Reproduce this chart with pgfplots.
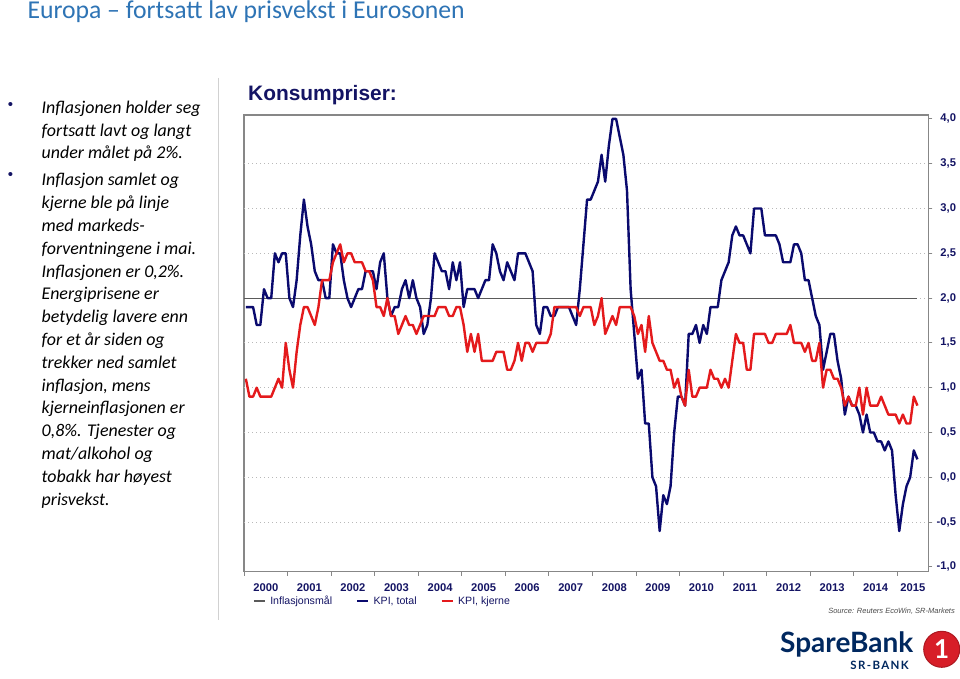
\documentclass[border=0pt]{standalone}
\usepackage{pgfplots}
\pgfplotsset{compat=1.18}
\usepackage{pgfplotstable}
\usepackage{fontspec}
\setmainfont{Liberation Sans}
\newfontfamily\calibri{Carlito}
\newfontfamily\arial{Liberation Sans}
\newfontfamily\logofont{Lato}
\definecolor{titleblue}{RGB}{46,116,181}
\definecolor{navy}{RGB}{20,20,100}
\definecolor{kpiblue}{RGB}{10,10,110}
\definecolor{kpired}{RGB}{228,26,28}
\definecolor{framegray}{RGB}{135,135,135}
\definecolor{gridgray}{RGB}{185,185,185}
\definecolor{targetgray}{RGB}{90,90,90}
\definecolor{logonavy}{RGB}{0,40,95}
\definecolor{logored}{RGB}{215,30,40}

\pgfplotstableread{
m total core
0 1.9 1.1
1 1.9 0.9
2 1.9 0.9
3 1.7 1.0
4 1.7 0.9
5 2.1 0.9
6 2.0 0.9
7 2.0 0.9
8 2.5 1.0
9 2.4 1.1
10 2.5 1.0
11 2.5 1.5
12 2.0 1.2
13 1.9 1.0
14 2.2 1.4
15 2.7 1.7
16 3.1 1.9
17 2.8 1.9
18 2.6 1.8
19 2.3 1.7
20 2.2 1.9
21 2.2 2.2
22 2.0 2.2
23 2.0 2.2
24 2.6 2.4
25 2.5 2.5
26 2.5 2.6
27 2.2 2.4
28 2.0 2.5
29 1.9 2.5
30 2.0 2.4
31 2.1 2.4
32 2.1 2.4
33 2.3 2.3
34 2.3 2.3
35 2.3 2.2
36 2.1 1.9
37 2.4 1.9
38 2.5 1.8
39 2.0 2.0
40 1.8 1.8
41 1.9 1.8
42 1.9 1.6
43 2.1 1.7
44 2.2 1.8
45 2.0 1.7
46 2.2 1.7
47 2.0 1.6
48 1.9 1.7
49 1.6 1.8
50 1.7 1.8
51 2.0 1.8
52 2.5 1.8
53 2.4 1.9
54 2.3 1.9
55 2.3 1.9
56 2.1 1.8
57 2.4 1.8
58 2.2 1.9
59 2.4 1.9
60 1.9 1.7
61 2.1 1.4
62 2.1 1.6
63 2.1 1.4
64 2.0 1.6
65 2.1 1.3
66 2.2 1.3
67 2.2 1.3
68 2.6 1.3
69 2.5 1.4
70 2.3 1.4
71 2.2 1.4
72 2.4 1.2
73 2.3 1.2
74 2.2 1.3
75 2.5 1.5
76 2.5 1.3
77 2.5 1.5
78 2.4 1.5
79 2.3 1.4
80 1.7 1.5
81 1.6 1.5
82 1.9 1.5
83 1.9 1.5
84 1.8 1.6
85 1.8 1.9
86 1.9 1.9
87 1.9 1.9
88 1.9 1.9
89 1.9 1.9
90 1.8 1.9
91 1.7 1.9
92 2.1 1.8
93 2.6 1.9
94 3.1 1.9
95 3.1 1.9
96 3.2 1.7
97 3.3 1.8
98 3.6 2.0
99 3.3 1.6
100 3.7 1.7
101 4.0 1.8
102 4.0 1.7
103 3.8 1.9
104 3.6 1.9
105 3.2 1.9
106 2.1 1.9
107 1.6 1.8
108 1.1 1.6
109 1.2 1.7
110 0.6 1.4
111 0.6 1.8
112 0.0 1.5
113 -0.1 1.4
114 -0.6 1.3
115 -0.2 1.3
116 -0.3 1.2
117 -0.1 1.2
118 0.5 1.0
119 0.9 1.1
120 0.9 0.9
121 0.8 0.8
122 1.6 1.2
123 1.6 0.9
124 1.7 0.9
125 1.5 1.0
126 1.7 1.0
127 1.6 1.0
128 1.9 1.2
129 1.9 1.1
130 1.9 1.1
131 2.2 1.0
132 2.3 1.1
133 2.4 1.0
134 2.7 1.3
135 2.8 1.6
136 2.7 1.5
137 2.7 1.5
138 2.6 1.2
139 2.5 1.2
140 3.0 1.6
141 3.0 1.6
142 3.0 1.6
143 2.7 1.6
144 2.7 1.5
145 2.7 1.5
146 2.7 1.6
147 2.6 1.6
148 2.4 1.6
149 2.4 1.6
150 2.4 1.7
151 2.6 1.5
152 2.6 1.5
153 2.5 1.5
154 2.2 1.4
155 2.2 1.5
156 2.0 1.3
157 1.8 1.3
158 1.7 1.5
159 1.2 1.0
160 1.4 1.2
161 1.6 1.2
162 1.6 1.1
163 1.3 1.1
164 1.1 1.0
165 0.7 0.8
166 0.9 0.9
167 0.8 0.8
168 0.8 0.8
169 0.7 1.0
170 0.5 0.7
171 0.7 1.0
172 0.5 0.8
173 0.5 0.8
174 0.4 0.8
175 0.4 0.9
176 0.3 0.8
177 0.4 0.7
178 0.3 0.7
179 -0.2 0.7
180 -0.6 0.6
181 -0.3 0.7
182 -0.1 0.6
183 0.0 0.6
184 0.3 0.9
185 0.2 0.8
}\kpidata

\begin{document}
\begin{tikzpicture}[x=1pt,y=1pt]
\path[use as bounding box] (0,0) rectangle (960,678);
\fill[white] (0,0) rectangle (960,678);

% title
\node[anchor=base west, inner sep=0pt, text=titleblue, font=\calibri\fontsize{25.7}{28}\selectfont] at (27.3,659.5) {Europa – fortsatt lav prisvekst i Eurosonen};

% divider
\draw[black!18, line width=1pt] (218,600) -- (218,58);

% bullets
\begin{scope}[every node/.style={anchor=base west, inner sep=0pt, font=\calibri\itshape\fontsize{17.9}{22.8}\selectfont}]
\node at (41.5,564.7) {Inflasjonen holder seg};
\node at (41.5,541.9) {fortsatt lavt og langt};
\node at (41.5,519.1) {under målet på 2\%.};
\node at (41.5,492.1) {Inflasjon samlet og};
\node at (41.5,469.3) {kjerne ble på linje};
\node at (41.5,446.5) {med markeds-};
\node at (41.5,423.7) {forventningene i mai.};
\node at (41.5,400.9) {Inflasjonen er 0,2\%.};
\node at (41.5,378.1) {Energiprisene er};
\node at (41.5,355.3) {betydelig lavere enn};
\node at (41.5,332.5) {for et år siden og};
\node at (41.5,309.7) {trekker ned samlet};
\node at (41.5,286.9) {inflasjon, mens};
\node at (41.5,264.1) {kjerneinflasjonen er};
\node at (41.5,241.3) {0,8\%. Tjenester og};
\node at (41.5,218.5) {mat/alkohol og};
\node at (41.5,195.7) {tobakk har høyest};
\node at (41.5,172.9) {prisvekst.};
\end{scope}
\node[anchor=center, inner sep=0pt, text=navy, font=\arial\fontsize{15}{15}\selectfont] at (10.5,572) {•};
\node[anchor=center, inner sep=0pt, text=navy, font=\arial\fontsize{15}{15}\selectfont] at (10.5,502) {•};

% chart heading
\node[anchor=base west, inner sep=0pt, text=navy, font=\arial\bfseries\fontsize{20.9}{22}\selectfont] at (248,577) {Konsumpriser:};

\begin{axis}[
  at={(244pt,106.3pt)}, anchor=south west,
  scale only axis, width=684.3pt, height=456.7pt,
  xmin=0, xmax=188.5, ymin=-1.054, ymax=4.044,
  axis line style={framegray, line width=1.3pt},
  tick align=outside,
  major tick length=4pt, minor tick length=4pt,
  xtick={6,18,30,42,54,66,78,90,102,114,126,138,150,162,174,184.25},
  xticklabels={2000,2001,2002,2003,2004,2005,2006,2007,2008,2009,2010,2011,2012,2013,2014,2015},
  major x tick style={draw=none},
  minor xtick={0,12,24,36,48,60,72,84,96,108,120,132,144,156,168,180},
  minor x tick style={framegray, line width=1pt},
  xtick pos=bottom,
  xticklabel style={font=\arial\bfseries\fontsize{11.2}{12}\selectfont, text=navy, anchor=base, yshift=-16.2pt, inner sep=0pt},
  ytick={-1,-0.5,0,0.5,1,1.5,2,2.5,3,3.5,4},
  ytick pos=right, yticklabel pos=right,
  major y tick style={framegray, line width=1pt},
  yticklabel style={font=\arial\bfseries\fontsize{11.2}{12}\selectfont, text=navy, anchor=east, xshift=23.9pt, inner sep=0pt},
  extra y ticks={-0.5,0,0.5,1,1.5,2,2.5,3,3.5},
  extra y tick labels={},
  extra y tick style={grid=major, major grid style={gridgray, line width=0.9pt, dash pattern=on 1.2pt off 2.8pt}},
  scaled y ticks=false,
  /pgf/number format/fixed, /pgf/number format/fixed zerofill,
  /pgf/number format/precision=1, /pgf/number format/use comma,
  /pgf/number format/assume math mode=true,
  legend columns=3,
  legend style={at={(0.0125,-0.0642)}, anchor=west, draw=none, fill=none, inner sep=0pt,
    font=\arial\fontsize{10.6}{12}\selectfont, text=navy,
    /tikz/every odd column/.append style={column sep=2.5pt},
    /tikz/every even column/.append style={column sep=22pt}},
  legend image code/.code={\draw[#1, line width=2pt] (0pt,0pt) -- (11pt,0pt);},
  legend cell align=left,
]
\addplot[targetgray, line width=1.2pt] coordinates {(0,2) (185.5,2)};
\addplot[kpiblue, line width=2.4pt, line join=round] table[x expr=\thisrow{m}+0.5, y=total] {\kpidata};
\addplot[kpired, line width=2.4pt, line join=round] table[x expr=\thisrow{m}+0.5, y=core] {\kpidata};
\legend{Inflasjonsmål, {KPI, total}, {KPI, kjerne}}
\end{axis}

% source
\node[anchor=base east, inner sep=0pt, text=black!70, font=\arial\itshape\fontsize{7.5}{9}\selectfont] at (955,64.5) {Source: Reuters EcoWin, SR-Markets};

% logo
\node[anchor=base west, inner sep=0pt, text=logonavy, font=\logofont\bfseries\fontsize{28}{30}\selectfont] at (780,25.3) {SpareBank};
\node[anchor=base east, inner sep=0pt, text=logonavy, font=\logofont\bfseries\fontsize{11.5}{12}\selectfont\addfontfeatures{LetterSpace=12}] at (909,9) {SR-BANK};
\fill[logored] (941.7,28.7) circle (18);
\draw[black!20!logored, line width=1pt] (941.7,28.7) circle (18);
\node[text=white, inner sep=0pt, font=\logofont\bfseries\fontsize{26}{26}\selectfont] at (941.7,28.7) {1};
\end{tikzpicture}
\end{document}
